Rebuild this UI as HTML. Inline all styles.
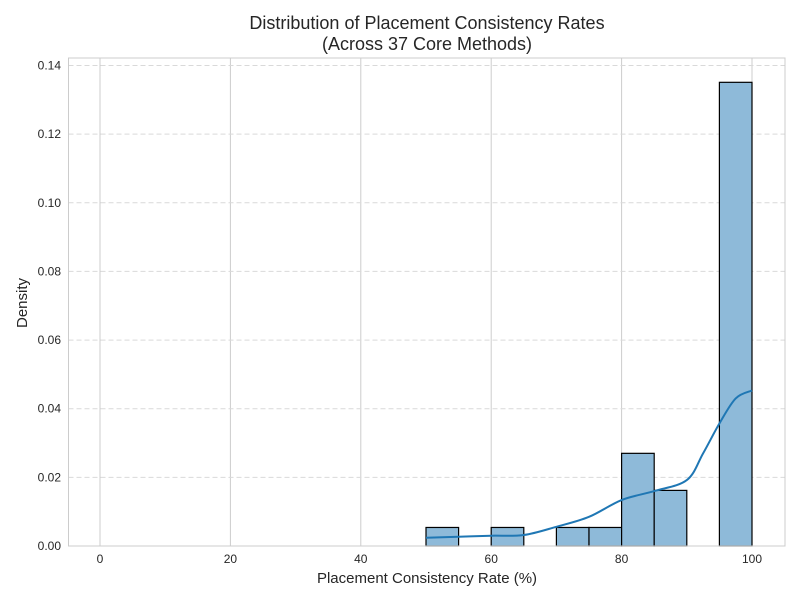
<!DOCTYPE html>
<html><head><meta charset="utf-8"><style>
body{margin:0;background:#fff;}
svg text{font-family:"Liberation Sans",Arial,sans-serif;fill:#262626;}
</style></head><body>
<svg id="chart" width="800" height="600" xmlns="http://www.w3.org/2000/svg">
<text x="427" y="29" font-size="18" text-anchor="middle">Distribution of Placement Consistency Rates</text>
<text x="427" y="50" font-size="18" text-anchor="middle">(Across 37 Core Methods)</text>
<g id="grid"></g>
<g id="bars"></g>
<path id="kde" fill="none" stroke="#1f77b4" stroke-width="2"/>
<rect x="68.5" y="58" width="716.5" height="488" fill="none" stroke="#cccccc" stroke-width="1"/>
<g id="ticks"></g>
<text x="427" y="583" font-size="15" text-anchor="middle">Placement Consistency Rate (%)</text>
<text transform="translate(27,303) rotate(-90)" font-size="15" text-anchor="middle">Density</text>
</svg>
<script>
const binStarts=[50,60,70,75,80,85,95];
const binWidth=5;
const densities=[0.0054,0.0054,0.0054,0.0054,0.027,0.0162,0.1351];
const kdeX=[50,55,60,65,70,75,80,85,90,92.5,95,97.5,100];
const kdeY=[0.0024,0.0027,0.0030,0.0032,0.0056,0.0085,0.0134,0.016,0.0192,0.027,0.0357,0.043,0.0453];
const xTicks=[0,20,40,60,80,100];
const yTicks=[0,0.02,0.04,0.06,0.08,0.10,0.12,0.14];
const yLabels=["0.00","0.02","0.04","0.06","0.08","0.10","0.12","0.14"];
const NS="http://www.w3.org/2000/svg";
const sx=v=>100+v*6.52;
const sy=v=>546-v*(480.5/0.14);
function mk(t,a,p){const e=document.createElementNS(NS,t);for(const k in a)e.setAttribute(k,a[k]);p.appendChild(e);return e;}
const grid=document.getElementById('grid'),ticks=document.getElementById('ticks'),bars=document.getElementById('bars');
xTicks.forEach(v=>{
 const l=mk('line',{x1:sx(v),x2:sx(v),y1:58,y2:546,stroke:'#cccccc','stroke-width':1},grid);
 
 
 const t=mk('text',{x:sx(v),y:563,'font-size':12,'text-anchor':'middle'},ticks);t.textContent=v;
 
 
});
yTicks.forEach((v,i)=>{
 if(v>0){const l=mk('line',{x1:68.5,x2:785,y1:sy(v),y2:sy(v),stroke:'#d9d9d9','stroke-width':1,'stroke-dasharray':'5,3'},grid);
 
 }
 const t=mk('text',{x:61,y:sy(v)+4,'font-size':12,'text-anchor':'end'},ticks);t.textContent=yLabels[i];
 
 
});
binStarts.forEach((b,i)=>{
 const r=mk('rect',{x:sx(b),y:sy(densities[i]),width:sx(b+binWidth)-sx(b),height:546-sy(densities[i]),fill:'#8ebad9',stroke:'#000','stroke-width':1.2},bars);
 
 
});
const pts=kdeX.map((x,i)=>[sx(x),sy(kdeY[i])]);
let d='M'+pts[0][0]+','+pts[0][1];
for(let i=0;i<pts.length-1;i++){
 const p0=pts[Math.max(0,i-1)],p1=pts[i],p2=pts[i+1],p3=pts[Math.min(pts.length-1,i+2)];
 const c1=[p1[0]+(p2[0]-p0[0])/6,p1[1]+(p2[1]-p0[1])/6],c2=[p2[0]-(p3[0]-p1[0])/6,p2[1]-(p3[1]-p1[1])/6];
 d+=` C${c1[0]},${c1[1]} ${c2[0]},${c2[1]} ${p2[0]},${p2[1]}`;
}
document.getElementById('kde').setAttribute('d',d);
</script>
</body></html>
